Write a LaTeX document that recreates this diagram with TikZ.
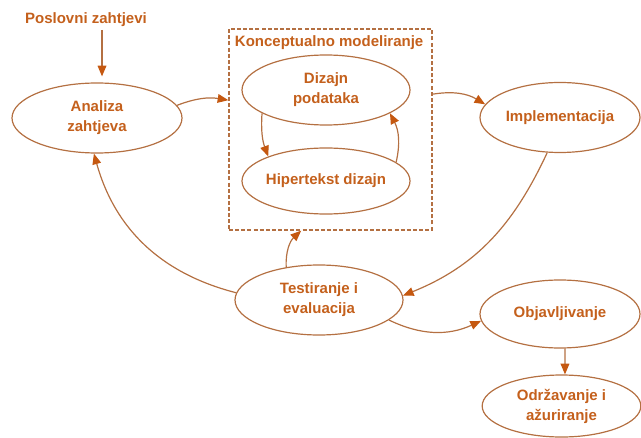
\documentclass[tikz,border=0pt]{standalone}
\usepackage{fontspec}
\setmainfont{Liberation Sans}
\usetikzlibrary{shapes.geometric, arrows.meta}
\definecolor{phaseLine}{RGB}{180,112,66}
\definecolor{phaseText}{RGB}{196,96,28}
\definecolor{phaseTip}{RGB}{197,88,16}

\begin{document}
\begin{tikzpicture}[x=0.75pt, y=-0.75pt,
    txt/.style={text=phaseText, font=\fontsize{11.25}{15}\selectfont\bfseries, align=center, inner sep=2pt},
    phase/.style={ellipse, draw=phaseLine, line width=0.9pt, inner sep=0pt, minimum width=126pt, minimum height=52.5pt, label={[txt]center:#1}},
    flow/.style={draw=phaseLine, line width=0.9pt, -{Triangle[length=8pt, width=6.5pt, color=phaseTip]}}]
  \useasboundingbox (0,0) rectangle (641,438);

  \node[draw=phaseLine, line width=1pt, dash pattern=on 3pt off 1.6pt, minimum width=152.25pt, minimum height=150.75pt, inner sep=0pt] (box) at (330.5,129.5) {};
  \node[txt, anchor=west] (konc) at (232,42.5) {Konceptualno modeliranje};

  \node[txt] (req) at (86,20) {Poslovni zahtjevi};
  \node[phase={Analiza\\zahtjeva}, minimum width=127.5pt] (analiza) at (97,118) {};
  \node[phase={Dizajn\\podataka}] (dizajn) at (326,90) {};
  \node[phase={Hipertekst dizajn}, minimum height=49.5pt] (hiper) at (326,181) {};
  \node[phase={Implementacija}, minimum width=120pt] (impl) at (560,117.5) {};
  \node[phase={Testiranje i\\evaluacija}] (test) at (319,300) {};
  \node[phase={Objavljivanje}, minimum width=120pt, minimum height=51pt] (objav) at (560,314) {};
  \node[phase={Održavanje i\\ažuriranje}, minimum width=119pt, minimum height=46.5pt] (odrz) at (561.5,406) {};

  \draw[flow] ([xshift=12pt]req.south) -- ([xshift=3.75pt, yshift=4.5pt]analiza.north);
  \draw[flow] (analiza.9) to[bend left=15] ([yshift=22pt]box.west);
  \draw[flow] ([yshift=26.5pt]box.east) to[bend left=20] (impl.170);
  \draw[flow] (dizajn.200) to[bend right=12] (hiper.157);
  \draw[flow] (hiper.15) to[bend right=20] (dizajn.340);
  \draw[flow] (impl.250) to[out=245, in=22] (test.3);
  \draw[flow] (test.175) to[bend left=30] (analiza.265);
  \draw[flow] (test.135) to[bend left=25] ([xshift=-22pt]box.south);
  \draw[flow] (test.344) to[bend right=25] (objav.185);
  \draw[flow] ([xshift=3.75pt]objav.south) -- ([xshift=2.6pt]odrz.north);
\end{tikzpicture}
\end{document}
